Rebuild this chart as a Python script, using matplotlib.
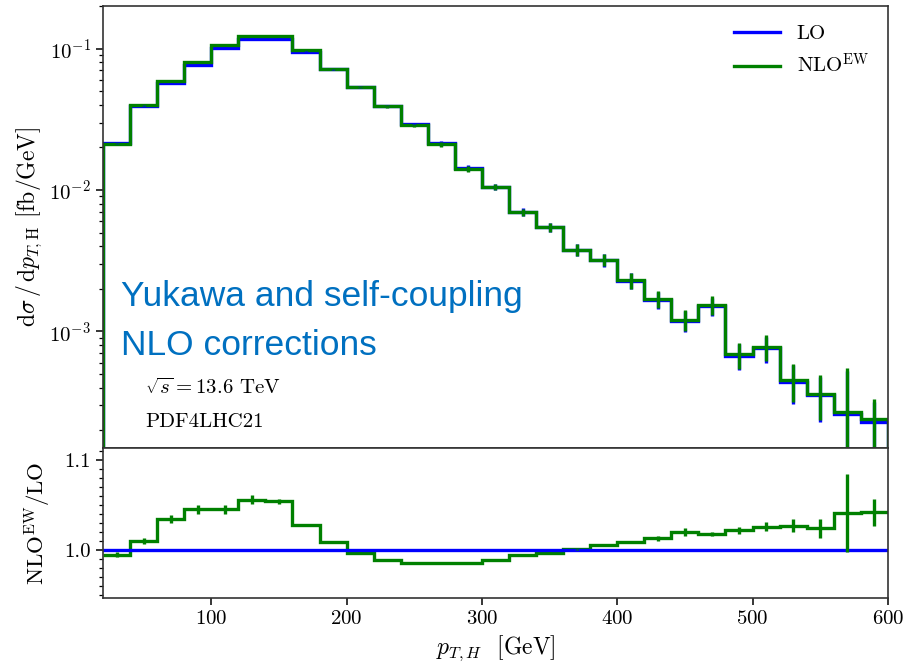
import numpy as np
import matplotlib
matplotlib.use('Agg')
import matplotlib.pyplot as plt
from matplotlib.ticker import MultipleLocator, FormatStrFormatter

plt.rcParams['font.family'] = 'serif'
plt.rcParams['font.serif'] = ['cmr10']
plt.rcParams['mathtext.fontset'] = 'cm'
plt.rcParams['axes.formatter.use_mathtext'] = True
plt.rcParams['font.size'] = 15

# p_T,H bin edges [GeV]
edges = np.arange(20, 601, 20)

# d sigma / d pT [fb/GeV]
lo = [0.02141, 0.03931, 0.05667, 0.07656, 0.10144, 0.11695, 0.11717, 0.09533,
      0.07136, 0.05356, 0.03943, 0.02911, 0.02140, 0.01430, 0.01057, 0.00701,
      0.00548, 0.00378, 0.00319, 0.00228, 0.00168, 0.00119, 0.00151, 0.000674,
      0.000760, 0.000442, 0.000355, 0.000259, 0.000230]
nlo = [0.0213, 0.0397, 0.0586, 0.080, 0.106, 0.1235, 0.1235, 0.098,
       0.072, 0.0534, 0.039, 0.0287, 0.0211, 0.0141, 0.01045, 0.00697,
       0.00546, 0.00378, 0.00321, 0.00230, 0.00170, 0.00121, 0.00154, 0.000689,
       0.000780, 0.000454, 0.000364, 0.000270, 0.000240]
# relative MC uncertainty per bin
rel_err = [0.01, 0.01, 0.01, 0.01, 0.01, 0.01, 0.01, 0.01, 0.01, 0.015,
           0.02, 0.025, 0.04, 0.045, 0.05, 0.06, 0.075, 0.09, 0.10, 0.13,
           0.14, 0.17, 0.15, 0.21, 0.21, 0.30, 0.35, 1.04, 0.38]

# NLO^EW / LO
ratio = [0.995, 1.010, 1.034, 1.045, 1.045, 1.056, 1.054, 1.028, 1.009, 0.997,
         0.989, 0.986, 0.986, 0.986, 0.989, 0.994, 0.997, 1.001, 1.006, 1.009,
         1.013, 1.020, 1.018, 1.022, 1.026, 1.027, 1.024, 1.041, 1.042]
ratio_err = [0.003, 0.003, 0.0045, 0.0045, 0.005, 0.005, 0.0025, 0.0005, 0.0005,
             0.0005, 0.0005, 0.0005, 0.0005, 0.0005, 0.0005, 0.0005, 0.0005,
             0.0005, 0.001, 0.001, 0.003, 0.004, 0.0025, 0.004, 0.005, 0.007,
             0.0105, 0.043, 0.015]

lo = np.array(lo)
nlo = np.array(nlo)
centers = 0.5 * (edges[:-1] + edges[1:])
lw = 2.4

fig = plt.figure(figsize=(9.06, 6.66), dpi=100)
gs = fig.add_gridspec(2, 1, height_ratios=[442, 150], hspace=0,
                      left=0.1137, right=0.980, top=0.991, bottom=0.1021)
ax1 = fig.add_subplot(gs[0])
ax2 = fig.add_subplot(gs[1], sharex=ax1)

# upper panel: spectra
ax1.stairs(lo, edges, baseline=1e-6, color='blue', lw=lw, label='LO')
ax1.errorbar(centers, lo, yerr=lo * np.array(rel_err), fmt='none',
             ecolor='blue', elinewidth=lw)
ax1.stairs(nlo, edges, baseline=1e-6, color='green', lw=lw,
           label=r'NLO$^{\mathrm{EW}}$')
ax1.errorbar(centers, nlo, yerr=nlo * np.array(rel_err), fmt='none',
             ecolor='green', elinewidth=lw)
ax1.set_yscale('log')
ax1.set_ylim(1.5e-4, 0.2)
ax1.set_xlim(20, 600)
ax1.set_ylabel(r'$\mathrm{d}\sigma\,/\,\mathrm{d}p_{T,\mathrm{H}}$ [fb/GeV]',
               fontsize=17)
ax1.tick_params(axis='x', which='both', length=0, labelbottom=False)
ax1.legend(loc='upper right', frameon=False, fontsize=15,
           handlelength=2.2, borderaxespad=0.5, labelspacing=0.45)

ax1.text(0.023, 0.342, 'Yukawa and self-coupling', transform=ax1.transAxes,
         family='Liberation Sans', fontsize=25.5, color='#0070C0', va='center')
ax1.text(0.023, 0.233, 'NLO corrections', transform=ax1.transAxes,
         family='Liberation Sans', fontsize=25.5, color='#0070C0', va='center')
ax1.text(0.0535, 0.136, r'$\sqrt{s} = 13.6$ TeV', transform=ax1.transAxes,
         va='center')
ax1.text(0.0535, 0.059, 'PDF4LHC21', transform=ax1.transAxes, va='center')

# lower panel: ratio
ax2.axhline(1.0, color='blue', lw=lw)
ax2.stairs(ratio, edges, baseline=None, color='green', lw=lw)
ax2.errorbar(centers, ratio, yerr=ratio_err, fmt='none', ecolor='green',
             elinewidth=lw)
ax2.set_ylim(0.9467, 1.1133)
ax2.yaxis.set_major_locator(MultipleLocator(0.1))
ax2.yaxis.set_minor_locator(MultipleLocator(0.01))
ax2.yaxis.set_major_formatter(FormatStrFormatter('%.1f'))
ax2.set_xticks([100, 200, 300, 400, 500, 600])
ax2.set_ylabel(r'NLO$^{\mathrm{EW}}$/LO', fontsize=16.5, labelpad=8)
ax2.set_xlabel(r'$p_{T,H}$  [GeV]', fontsize=17)

for ax in (ax1, ax2):
    for sp in ax.spines.values():
        sp.set_color('0.2')
        sp.set_linewidth(1.2)
    ax.tick_params(which='major', length=5, width=1.1)
    ax.tick_params(which='minor', length=3, width=0.9)
ax1.tick_params(axis='x', which='both', length=0)

fig.savefig('out.png', dpi=100)
